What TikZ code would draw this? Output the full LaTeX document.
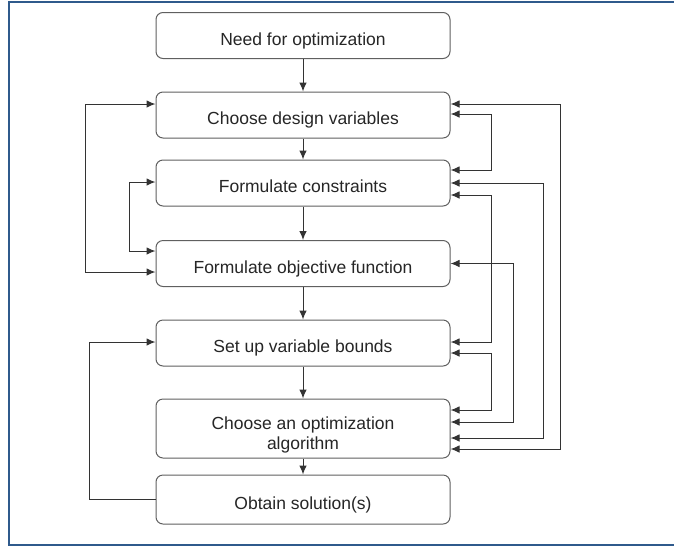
\documentclass[tikz,border=0pt]{standalone}
\usepackage{fontspec}
\setmainfont{Liberation Sans}
\usetikzlibrary{arrows.meta}
\definecolor{framecol}{HTML}{2F5A8C}
\definecolor{linecol}{HTML}{333333}
\definecolor{boxcol}{HTML}{606060}
\tikzset{
  stepbox/.style={draw=boxcol, line width=1pt, rounded corners=7pt, fill=white,
    minimum width=294pt, minimum height=46pt, align=center,
    text height=21pt, text depth=1.5pt,
    text=black!85, font=\fontsize{17.5}{20}\selectfont},
  flow/.style={draw=linecol, line width=1pt, -{Latex[length=9pt,width=7.5pt]}},
  twoway/.style={flow, {Latex[length=9pt,width=7.5pt]}-{Latex[length=9pt,width=7.5pt]}}
}
\begin{document}
\begin{tikzpicture}[x=1pt,y=-1pt]
  \useasboundingbox (0,0) rectangle (674,547);
  % frame round the figure
  \draw[framecol, line width=2pt] (674,2) -- (8.5,2) -- (8.5,545) -- (674,545);

  % the steps
  \node[stepbox] (need) at (303,35.5) {Need for optimization};
  \node[stepbox] (vars) at (303,115) {Choose design variables};
  \node[stepbox] (cons) at (303,183) {Formulate constraints};
  \node[stepbox] (obj)  at (303,263.5) {Formulate objective function};
  \node[stepbox] (bnds) at (303,343) {Set up variable bounds};
  \node[stepbox, minimum height=59pt, text height=43pt, text depth=1.5pt] (algo) at (303,428.5) {Choose an optimization\\algorithm};
  \node[stepbox, minimum height=49pt] (sol)  at (303,499.5) {Obtain solution(s)};

  % main flow
  \draw[flow] (need) -- (vars);
  \draw[flow] (vars) -- (cons);
  \draw[flow] (cons) -- (obj);
  \draw[flow] (obj)  -- (bnds);
  \draw[flow] (bnds) -- (algo);
  \draw[flow] (algo) -- (sol);

  % loops on the left
  \draw[twoway] ([yshift=11pt]vars.west) -- ++(-70,0) |- ([yshift=-8.5pt]obj.west);
  \draw[twoway] ([yshift=1pt]cons.west) -- ++(-26,0) |- ([yshift=12.5pt]obj.west);
  \draw[flow] (sol.west) -- ++(-66,0) |- ([yshift=1pt]bnds.west);

  % loops on the right
  \draw[twoway] ([yshift=1pt]vars.east) -- ++(41,0) |- ([yshift=13pt]cons.east);
  \draw[twoway] ([yshift=-12pt]cons.east) -- ++(41,0) |- ([yshift=1pt]bnds.east);
  \draw[twoway] ([yshift=-10pt]bnds.east) -- ++(41,0) |- ([yshift=18.5pt]algo.east);
  \draw[twoway] (obj.east) -- ++(63,0) |- ([yshift=6.5pt]algo.east);
  \draw[twoway] (cons.east) -- ++(93,0) |- ([yshift=-9.5pt]algo.east);
  \draw[twoway] ([yshift=11pt]vars.east) -- ++(110,0) |- ([yshift=-20.5pt]algo.east);
\end{tikzpicture}
\end{document}
